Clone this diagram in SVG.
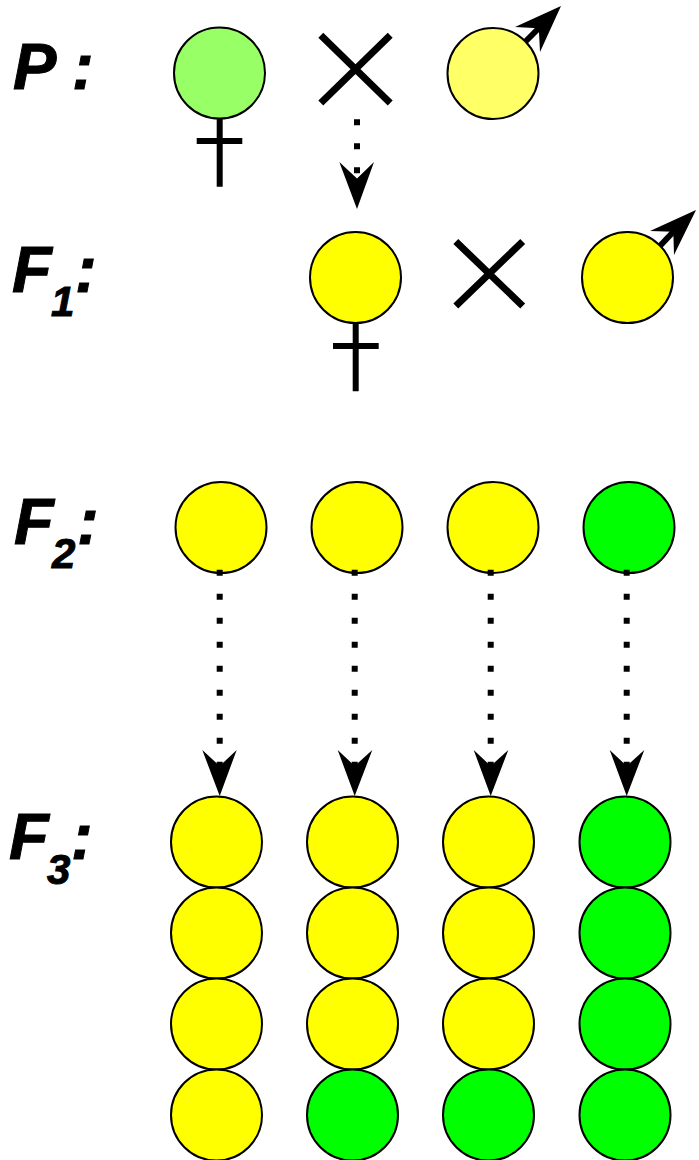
<svg xmlns="http://www.w3.org/2000/svg" width="699" height="1160" viewBox="0 0 699 1160">
<defs><style>
.y{fill:#ffff00}.g{fill:#00ff00}
circle{stroke:#000;stroke-width:2}
.s{stroke:#000;stroke-width:6;fill:none}
.x{stroke:#000;stroke-width:7;fill:none}
.d{stroke:#000;stroke-width:6;fill:none;stroke-dasharray:6 18}
.h{fill:#000}
text{font-family:"Liberation Sans",Arial,sans-serif;font-weight:bold;font-style:italic;fill:#000;stroke:#000;stroke-width:1}
.t{font-size:65px}.u{font-size:42px}
</style></defs>
<rect width="699" height="1160" fill="#fff"/>
<g id="label-p"><text class="t" x="13" y="89">P :</text></g>
<g id="label-f1"><text class="t" x="12" y="292">F</text><text class="u" x="51" y="316">1</text><text class="t" x="75" y="292">:</text></g>
<g id="label-f2"><text class="t" x="14" y="544">F</text><text class="u" x="52" y="568">2</text><text class="t" x="77" y="544">:</text></g>
<g id="label-f3"><text class="t" x="9" y="859">F</text><text class="u" x="47" y="884">3</text><text class="t" x="71" y="859">:</text></g>
<g id="cross-p"><path class="x" d="M320.800 35.200L390.200 103M390.200 35.200L320.800 103"/></g>
<g id="cross-f1"><path class="x" d="M455.800 241.500L522.700 306M522.700 241.500L455.800 306"/></g>
<g id="p-female"><path class="s" d="M219.700 118V186.700M196.700 141H242.300"/><circle cx="219.500" cy="73" r="45.500" fill="#99ff66"/></g>
<g id="p-male"><path class="s" d="M522 45L541 26"/><path class="h" d="M561 6L515 27L538.800 28.200L540 52Z"/><circle cx="493" cy="73.500" r="45.500" fill="#ffff66"/></g>
<g id="f1-female"><path class="s" d="M355.700 322V391.300M333 346H378.700"/><circle cx="355.500" cy="277.500" r="45.500" class="y"/></g>
<g id="f1-male"><path class="s" d="M657 249L676 229"/><path class="h" d="M696 210L650 231L673.300 231.700L674 255Z"/><circle cx="627.500" cy="277.500" r="45.500" class="y"/></g>
<g id="f2-1"><circle cx="221" cy="527.500" r="45.500" class="y"/></g>
<g id="f2-2"><circle cx="357" cy="527.500" r="45.500" class="y"/></g>
<g id="f2-3"><circle cx="493" cy="527.500" r="45.500" class="y"/></g>
<g id="f2-4"><circle cx="629" cy="527.500" r="45.500" class="g"/></g>
<g id="f3-1-1"><circle cx="216.500" cy="842" r="45.500" class="y"/></g>
<g id="f3-1-2"><circle cx="216.500" cy="933" r="45.500" class="y"/></g>
<g id="f3-1-3"><circle cx="216.500" cy="1024" r="45.500" class="y"/></g>
<g id="f3-1-4"><circle cx="216.500" cy="1115" r="45.500" class="y"/></g>
<g id="f3-2-1"><circle cx="352.500" cy="842" r="45.500" class="y"/></g>
<g id="f3-2-2"><circle cx="352.500" cy="933" r="45.500" class="y"/></g>
<g id="f3-2-3"><circle cx="352.500" cy="1024" r="45.500" class="y"/></g>
<g id="f3-2-4"><circle cx="352.500" cy="1115" r="45.500" class="g"/></g>
<g id="f3-3-1"><circle cx="488.500" cy="842" r="45.500" class="y"/></g>
<g id="f3-3-2"><circle cx="488.500" cy="933" r="45.500" class="y"/></g>
<g id="f3-3-3"><circle cx="488.500" cy="1024" r="45.500" class="y"/></g>
<g id="f3-3-4"><circle cx="488.500" cy="1115" r="45.500" class="g"/></g>
<g id="f3-4-1"><circle cx="625" cy="842" r="45.500" class="g"/></g>
<g id="f3-4-2"><circle cx="625" cy="933" r="45.500" class="g"/></g>
<g id="f3-4-3"><circle cx="625" cy="1024" r="45.500" class="g"/></g>
<g id="f3-4-4"><circle cx="625" cy="1115" r="45.500" class="g"/></g>
<g id="connectors">
<path class="d" d="M357 119.300V173.300"/>
<path class="h" d="M357 209L339.300 162L357 178.500L374 162Z"/>
<path class="d" d="M219.700 569.700V767.700"/>
<path class="h" d="M219.700 796L202.300 750L219.700 766L236.700 750Z"/>
<path class="d" d="M354.700 569.700V767.700"/>
<path class="h" d="M354.700 796L337.700 750L354.700 766L372.300 750Z"/>
<path class="d" d="M490.700 569.700V767.700"/>
<path class="h" d="M490.700 796L473.700 750L490.700 766L508.300 750Z"/>
<path class="d" d="M626.700 569.700V767.700"/>
<path class="h" d="M626.700 796L609.700 750L626.700 766L644.300 750Z"/>
</g>
</svg>
